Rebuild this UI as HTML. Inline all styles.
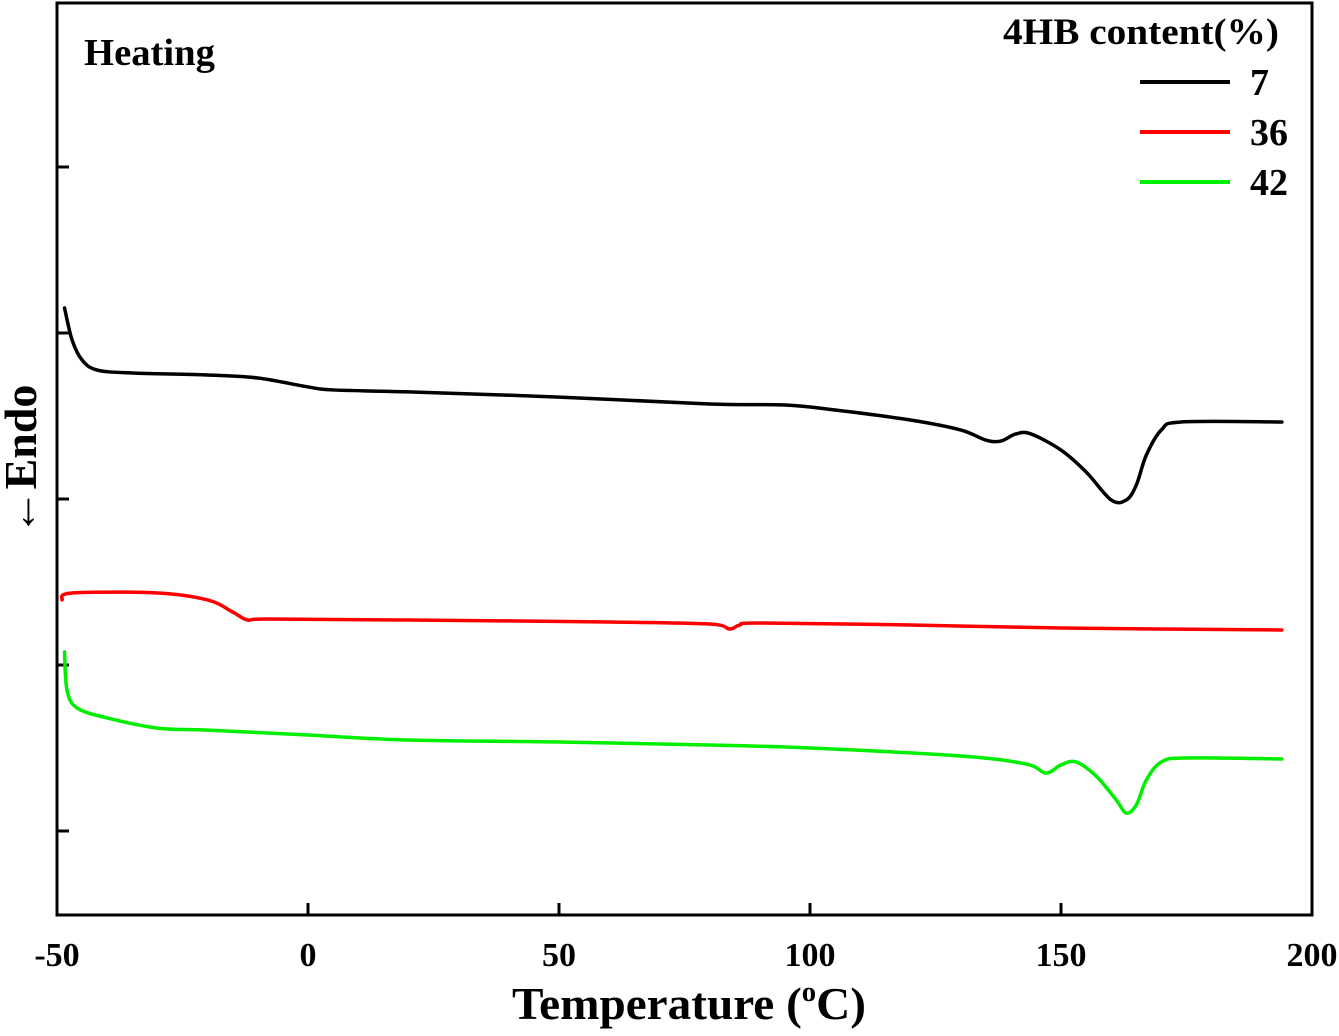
<!DOCTYPE html>
<html><head><meta charset="utf-8"><style>
body{margin:0;background:#fff}
svg text{font-family:"Liberation Serif",serif;font-weight:bold;fill:#000}
</style></head><body>
<svg width="1339" height="1031" viewBox="0 0 1339 1031">
<g id="plot"></g>
</svg>
<script>
const xTicks=[-50,0,50,100,150,200];
const yTicks=[1,2,3,4,5];
const blackT=[-48.5,-47,-45,-42,-35,-20,-10,0,5,20,50,80,95,105,120,130,135,138,141,144,150,155,160,163,165,167,170,174,194];
const blackV=[4.151,3.958,3.837,3.777,3.759,3.747,3.729,3.675,3.657,3.645,3.614,3.572,3.566,3.536,3.476,3.416,3.355,3.349,3.392,3.392,3.295,3.163,2.994,2.994,3.084,3.265,3.416,3.464,3.464];
const redT=[-49,-47,-30,-20,-15,-12,-8,20,60,80,84,86,90,120,150,194];
const redV=[2.392,2.434,2.434,2.392,2.319,2.271,2.277,2.271,2.259,2.247,2.217,2.241,2.253,2.241,2.223,2.211];
const greenT=[-48.5,-48,-46,-40,-30,-20,0,20,50,80,100,130,143,147,150,153,157,161,163,165,167,170,175,194];
const greenV=[2.078,1.849,1.741,1.681,1.620,1.608,1.578,1.548,1.536,1.518,1.5,1.452,1.404,1.349,1.398,1.416,1.331,1.187,1.108,1.157,1.307,1.416,1.440,1.434];
const seriesNames=['7','36','42'];

const L=57,R=1312,T=3,B=915;
const xs=t=>L+(t+50)*(R-L)/250;
const ys=v=>997-v*166;
const NS='http://www.w3.org/2000/svg';
const g=document.getElementById('plot');
function mk(tag,attrs){const e=document.createElementNS(NS,tag);for(const k in attrs)e.setAttribute(k,attrs[k]);g.appendChild(e);return e;}

const frame=mk('rect',{x:L,y:T,width:R-L,height:B-T,fill:'none',stroke:'#000','stroke-width':3});



xTicks.forEach(t=>{
  const l=mk('line',{x1:xs(t),x2:xs(t),y1:B,y2:B-12,stroke:'#000','stroke-width':3});
  
  
  const tx=mk('text',{x:xs(t),y:966,'text-anchor':'middle','font-size':34});
  tx.textContent=t;
  
  
});
yTicks.forEach(v=>{
  const l=mk('line',{x1:L,x2:L+12,y1:ys(v),y2:ys(v),stroke:'#000','stroke-width':3});
  
  
});

function smoothPath(pts){
  let d='M'+pts[0][0]+','+pts[0][1];
  for(let i=0;i<pts.length-1;i++){
    const p0=pts[Math.max(0,i-1)],p1=pts[i],p2=pts[i+1],p3=pts[Math.min(pts.length-1,i+2)];
    const c1x=p1[0]+(p2[0]-p0[0])/6,c1y=p1[1]+(p2[1]-p0[1])/6;
    const c2x=p2[0]-(p3[0]-p1[0])/6,c2y=p2[1]-(p3[1]-p1[1])/6;
    d+=' C'+c1x+','+c1y+' '+c2x+','+c2y+' '+p2[0]+','+p2[1];
  }
  return d;
}
function series(ts,vs,color,name){
  const pts=ts.map((t,i)=>[xs(t),ys(vs[i])]);
  const p=mk('path',{d:smoothPath(pts),fill:'none',stroke:color,'stroke-width':3.5,'stroke-linejoin':'round','stroke-linecap':'round'});
  
  
}
series(blackT,blackV,'#000','series-7');
series(redT,redV,'#ff0000','series-36');
series(greenT,greenV,'#00ee00','series-42');

const cols=['#000','#ff0000','#00ee00'];
seriesNames.forEach((n,i)=>{
  const y=82+i*50;
  const l=mk('line',{x1:1140,x2:1230,y1:y,y2:y,stroke:cols[i],'stroke-width':4});
  
  
  const tx=mk('text',{x:1250,y:y+13,'font-size':38});
  tx.textContent=n;
  
  
});
</script>
<svg width="1339" height="1031" style="position:absolute;left:0;top:0">
<text x="84" y="65" font-size="38" textLength="131" lengthAdjust="spacingAndGlyphs">Heating</text>
<text x="1003" y="44" font-size="37" textLength="276" lengthAdjust="spacingAndGlyphs">4HB content(%)</text>
<text x="512" y="1019" font-size="46" textLength="354" lengthAdjust="spacingAndGlyphs">Temperature (<tspan font-size="28" dy="-18">o</tspan><tspan dy="18">C)</tspan></text>
<text transform="translate(36,460) rotate(-90)" font-size="46" text-anchor="middle">←Endo</text>
</svg>
</body></html>
